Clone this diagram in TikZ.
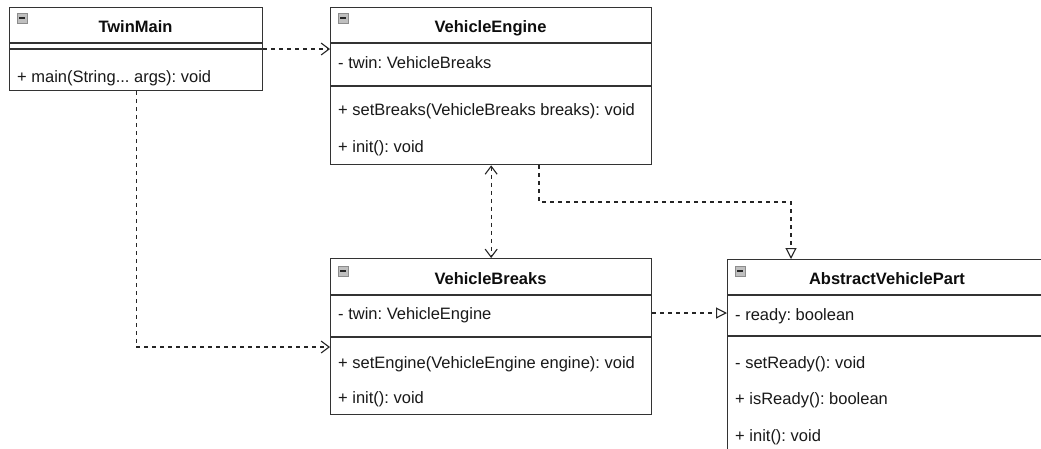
\documentclass[tikz,border=0pt]{standalone}
\usepackage{fontspec}
\setmainfont{Liberation Sans}
\usetikzlibrary{arrows.meta}
\frenchspacing
\tikzset{
 box/.style={draw=black!80, line width=1.3pt, anchor=north west, inner sep=0pt, fill=white},
 sepline/.style={draw=black!80, line width=1.3pt},
 mem/.style={anchor=base west, inner sep=0pt, text=black!90, font=\fontsize{16.5}{20}\selectfont},
 ttl/.style={anchor=base, inner sep=0pt, text=black!95, font=\fontsize{16.5}{20}\selectfont\bfseries},
 conn/.style={draw=black!85, line width=1.1pt, dash pattern=on 4pt off 4pt},
 dep/.style={conn, -{Straight Barb[length=8pt,width=12pt]}},
 real/.style={conn, -{Triangle[open,length=11pt,width=11pt,fill=white]}},
 minusicon/.pic={
   \draw[draw=gray!90, fill=gray!50, line width=0.7pt] (0,0) rectangle (10,10);
   \draw[black!85, line width=1.5pt] (2,5) -- (8,5);
 }
}
\begin{document}
\begin{tikzpicture}[x=1pt,y=-1pt]
\useasboundingbox (0,0) rectangle (1041,448);
\clip (0,0) rectangle (1041,448);
\fill[white] (0,0) rectangle (1041,448);

% TwinMain
\node[box, minimum width=253pt, minimum height=83pt] (tm) at (9,7) {};
\draw[sepline] (tm.west |- 0,43) -- (tm.east |- 0,43);
\draw[sepline] (tm.west |- 0,49) -- (tm.east |- 0,49);
\pic at (17,13) {minusicon};
\node[ttl] (tmt) at (135.5,32) {TwinMain};
\node[mem] (tm1) at (17,82) {+ main(String... args): void};

% VehicleEngine
\node[box, minimum width=321pt, minimum height=157pt] (ve) at (330,7) {};
\draw[sepline] (ve.west |- 0,43) -- (ve.east |- 0,43);
\draw[sepline] (ve.west |- 0,86) -- (ve.east |- 0,86);
\pic at (338,13) {minusicon};
\node[ttl] (vet) at (490.5,32) {VehicleEngine};
\node[mem] (ve1) at (338,68) {- twin: VehicleBreaks};
\node[mem] (ve2) at (338,115) {+ setBreaks(VehicleBreaks breaks): void};
\node[mem] (ve3) at (338,152) {+ init(): void};

% VehicleBreaks
\node[box, minimum width=321pt, minimum height=156pt] (vb) at (330,258) {};
\draw[sepline] (vb.west |- 0,295) -- (vb.east |- 0,295);
\draw[sepline] (vb.west |- 0,337) -- (vb.east |- 0,337);
\pic at (338,266) {minusicon};
\node[ttl] (vbt) at (490.5,284) {VehicleBreaks};
\node[mem] (vb1) at (338,319) {- twin: VehicleEngine};
\node[mem] (vb2) at (338,368) {+ setEngine(VehicleEngine engine): void};
\node[mem] (vb3) at (338,403) {+ init(): void};

% AbstractVehiclePart
\node[box, minimum width=320pt, minimum height=230pt] (avp) at (727,259) {};
\draw[sepline] (avp.west |- 0,295) -- (avp.east |- 0,295);
\draw[sepline] (avp.west |- 0,336) -- (avp.east |- 0,336);
\pic at (735,266) {minusicon};
\node[ttl] (avpt) at (887,284) {AbstractVehiclePart};
\node[mem] (avp1) at (735,320) {- ready: boolean};
\node[mem] (avp2) at (735,368) {- setReady(): void};
\node[mem] (avp3) at (735,404) {+ isReady(): boolean};
\node[mem] (avp4) at (735,441) {+ init(): void};

% connectors
\coordinate (ya) at (0,49);
\coordinate (yb) at (0,347);
\coordinate (yc) at (0,313);
\coordinate (k1) at (539,202);
\coordinate (k2) at (791,202);
\draw[dep] (tm.east |- ya) -- (ve.west |- ya);
\draw[dep] (tm.south) |- (vb.west |- yb);
\draw[conn, {Straight Barb[length=8pt,width=12pt]}-{Straight Barb[length=8pt,width=12pt]}] (ve.south) -- (vb.north);
\draw[real] (ve.south -| k1) |- (k2) -- (avp.north -| k2);
\draw[real] (vb.east |- yc) -- (avp.west |- yc);
\end{tikzpicture}
\end{document}
